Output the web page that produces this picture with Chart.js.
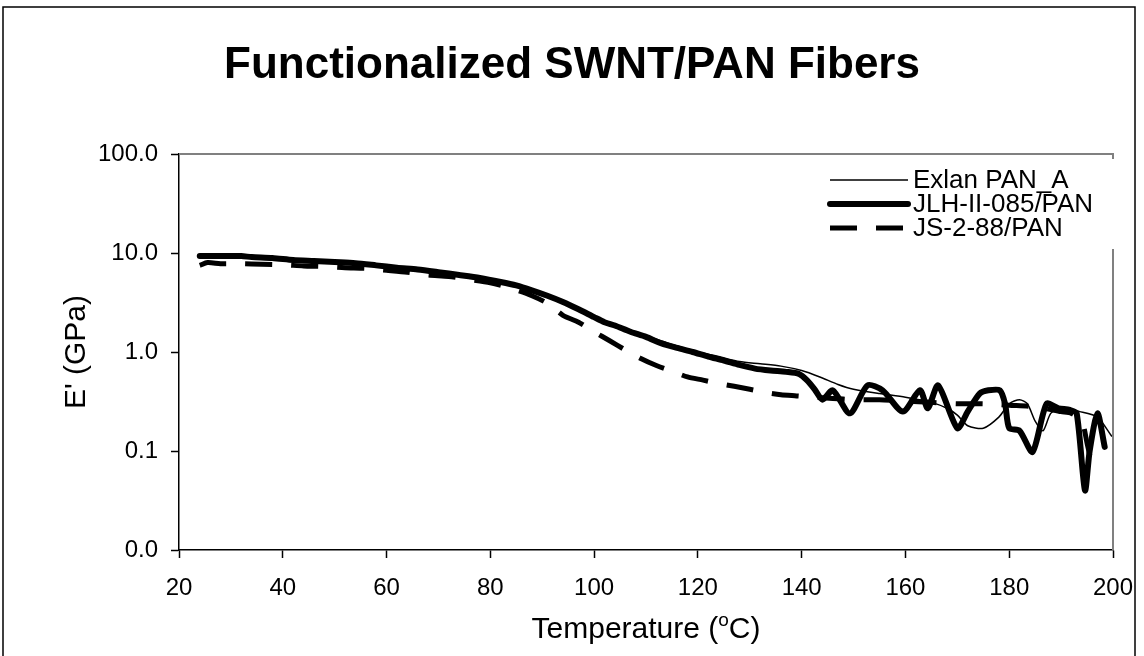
<!DOCTYPE html>
<html>
<head>
<meta charset="utf-8">
<script src="https://cdn.jsdelivr.net/npm/chart.js@4.4.1/dist/chart.umd.min.js"></script>
<style>
  html, body { margin:0; padding:0; background:#fff; }
  #wrap { width:1144px; height:656px; position:relative; }
</style>
</head>
<body>
<div id="wrap"><canvas id="c" width="1144" height="656"></canvas></div>
<script>
// ---- Data ----
const chartTitle = "Functionalized SWNT/PAN Fibers";
const seriesNames = ["Exlan PAN_A", "JLH-II-085/PAN", "JS-2-88/PAN"];

const exlanT = [24, 30, 36, 42, 48, 54, 60, 66, 72, 78, 84, 90, 96, 100, 104, 108, 112, 116, 120, 124, 128, 132, 136, 140, 143.5, 147, 150, 155, 160, 165, 168, 170, 172, 175, 178, 180, 182, 183.5, 185, 186.5, 188, 190, 193.6, 197, 199.8];
const exlanE = [9.3, 9.3, 9.0, 8.6, 8.2, 7.9, 7.3, 6.8, 6.2, 5.6, 4.9, 3.9, 2.9, 2.3, 1.9, 1.6, 1.35, 1.15, 1.0, 0.9, 0.8, 0.76, 0.72, 0.65, 0.56, 0.47, 0.42, 0.38, 0.35, 0.31, 0.27, 0.23, 0.18, 0.17, 0.22, 0.30, 0.33, 0.30, 0.20, 0.16, 0.24, 0.27, 0.25, 0.22, 0.14];

const jlhT = [24, 28, 32, 34, 38, 42, 46, 50, 54, 58, 62, 66, 70, 74, 78, 82, 85, 88, 91, 94, 97, 100, 102, 104, 107, 110, 113, 116, 119, 122, 125, 128, 131, 134, 137, 139.5, 141, 142.5, 144, 146, 149.3, 152.7, 155.6, 159.5, 162.8, 164.3, 166.3, 170, 172, 174.3, 176, 178.2, 179.2, 180, 182, 184.5, 187.2, 189.5, 191.7, 193, 194.6, 195.5, 197, 198.4];
const jlhE = [9.3, 9.3, 9.3, 9.1, 8.9, 8.5, 8.3, 8.1, 7.9, 7.5, 7.1, 6.8, 6.4, 6.0, 5.6, 5.1, 4.7, 4.2, 3.7, 3.2, 2.7, 2.25, 2.0, 1.85, 1.6, 1.42, 1.22, 1.1, 1.0, 0.9, 0.82, 0.74, 0.68, 0.65, 0.63, 0.6, 0.52, 0.42, 0.33, 0.41, 0.24, 0.46, 0.41, 0.25, 0.41, 0.27, 0.46, 0.17, 0.25, 0.38, 0.41, 0.41, 0.30, 0.17, 0.16, 0.098, 0.30, 0.27, 0.26, 0.24, 0.04, 0.10, 0.24, 0.11];

const jsT = [24, 25.5, 28, 32, 36, 40, 44, 48, 52, 56, 60, 64, 68, 72, 76, 80, 84, 88, 91, 94, 97, 100, 103, 106, 109, 112, 115, 118, 121, 124, 127, 130, 133, 136, 139, 142, 146, 150, 155, 160, 165, 170, 175, 180, 185, 190, 192, 194, 195, 196];
const jsE = [7.5, 8.0, 7.8, 7.8, 7.7, 7.6, 7.4, 7.3, 7.1, 7.0, 6.7, 6.4, 6.0, 5.8, 5.4, 5.0, 4.4, 3.7, 3.1, 2.35, 2.0, 1.6, 1.3, 1.05, 0.86, 0.73, 0.64, 0.56, 0.52, 0.48, 0.45, 0.42, 0.39, 0.37, 0.36, 0.35, 0.34, 0.33, 0.33, 0.32, 0.31, 0.30, 0.30, 0.29, 0.28, 0.25, 0.24, 0.20, 0.12, 0.07];

const xTicks = [20, 40, 60, 80, 100, 120, 140, 160, 180, 200];
const yTicks = [0.01, 0.1, 1, 10, 100];

// ---- Styling ----
const FONT = '"Liberation Sans", Arial, sans-serif';
const pts = (xs, ys) => xs.map((x, i) => ({ x: x, y: ys[i] }));

const styles = [
  { borderWidth: 1.5, borderDash: [] },
  { borderWidth: 6, borderDash: [] },
  { borderWidth: 5, borderDash: [27, 19] }
];

const decorPlugin = {
  id: 'decor',
  beforeDraw(chart) {
    const ctx = chart.ctx;
    ctx.save();
    ctx.fillStyle = '#fff';
    ctx.fillRect(0, 0, chart.width, chart.height);
    ctx.restore();
  },
  afterDatasetsDraw(chart) {
    const ctx = chart.ctx;
    const a = chart.chartArea;
    ctx.save();
    // gray plot-area border (top, right)
    ctx.strokeStyle = '#808080';
    ctx.lineWidth = 2;
    ctx.beginPath();
    ctx.moveTo(a.left, a.top);
    ctx.lineTo(a.right, a.top);
    ctx.lineTo(a.right, a.bottom);
    ctx.stroke();

    // legend box
    const lx = 830, ly = 180, lh = 24;
    ctx.fillStyle = '#fff';
    ctx.fillRect(816, 159, 306, 90);
    ctx.font = '26px ' + FONT;
    ctx.textBaseline = 'middle';
    ctx.fillStyle = '#000';
    seriesNames.forEach((n, i) => {
      const y = ly + i * lh;
      ctx.save();
      ctx.strokeStyle = '#000';
      ctx.lineWidth = styles[i].borderWidth;
      ctx.lineCap = i === 1 ? 'round' : 'butt';
      ctx.setLineDash(styles[i].borderDash);
      ctx.beginPath();
      ctx.moveTo(lx, y);
      ctx.lineTo(lx + 78, y);
      ctx.stroke();
      ctx.restore();
      ctx.fillText(n, 913, y + 1);
    });

    // chart title
    ctx.font = 'bold 44px ' + FONT;
    ctx.textAlign = 'center';
    ctx.textBaseline = 'alphabetic';
    ctx.fillText(chartTitle, 572, 78);

    // y axis title (rotated)
    ctx.save();
    ctx.translate(77, (a.top + a.bottom) / 2);
    ctx.rotate(-Math.PI / 2);
    ctx.font = '30px ' + FONT;
    ctx.textAlign = 'center';
    ctx.textBaseline = 'middle';
    ctx.fillText("E' (GPa)", 0, 0);
    ctx.restore();

    // x axis title with superscript o
    const p1 = 'Temperature (', sup = 'o', p2 = 'C)';
    ctx.textAlign = 'left';
    ctx.font = '30px ' + FONT;
    const w1 = ctx.measureText(p1).width, w3 = ctx.measureText(p2).width;
    ctx.font = '19px ' + FONT;
    const w2 = ctx.measureText(sup).width;
    let x = (a.left + a.right) / 2 - (w1 + w2 + w3) / 2;
    const by = 638;
    ctx.font = '30px ' + FONT;
    ctx.fillText(p1, x, by); x += w1;
    ctx.font = '19px ' + FONT;
    ctx.fillText(sup, x, by - 12); x += w2;
    ctx.font = '30px ' + FONT;
    ctx.fillText(p2, x, by);

    // outer frame
    ctx.strokeStyle = '#000';
    ctx.lineWidth = 1.5;
    ctx.strokeRect(3, 7, 1132, 700);
    ctx.restore();
  }
};

const ds = [
  { label: seriesNames[0], data: pts(exlanT, exlanE), order: 3 },
  { label: seriesNames[1], data: pts(jlhT, jlhE), order: 2 },
  { label: seriesNames[2], data: pts(jsT, jsE), order: 1 }
].map((d, i) => Object.assign(d, {
  showLine: true,
  borderColor: '#000',
  backgroundColor: '#000',
  borderWidth: styles[i].borderWidth,
  borderDash: styles[i].borderDash,
  borderCapStyle: i === 1 ? 'round' : 'butt',
  borderJoinStyle: 'round',
  pointRadius: 0,
  tension: 0.25,
  fill: false
}));

new Chart(document.getElementById('c'), {
  type: 'scatter',
  data: { datasets: ds },
  options: {
    responsive: false,
    animation: false,
    devicePixelRatio: 1,
    layout: { padding: { top: 154, right: 31, bottom: 0, left: 0 } },
    plugins: { legend: { display: false }, title: { display: false }, tooltip: { enabled: false } },
    scales: {
      x: {
        type: 'linear', min: 20, max: 200,
        afterBuildTicks: s => { s.ticks = xTicks.map(v => ({ value: v })); },
        afterFit: s => { s.height = 106; s.paddingLeft = 0; s.paddingRight = 0; },
        ticks: { font: { family: FONT, size: 24 }, color: '#000', padding: 16, maxRotation: 0, autoSkip: false },
        grid: { drawOnChartArea: false, drawTicks: true, tickLength: 8, tickColor: '#000', tickWidth: 1.5 },
        border: { display: true, color: '#000', width: 1.5 }
      },
      y: {
        type: 'logarithmic', min: 0.01, max: 100,
        afterBuildTicks: s => { s.ticks = yTicks.map(v => ({ value: v, major: true })); },
        afterFit: s => { s.width = 179; s.paddingTop = 0; s.paddingBottom = 0; },
        ticks: { font: { family: FONT, size: 24 }, color: '#000', padding: 13, autoSkip: false,
                 callback: v => Number(v).toFixed(1) },
        grid: { drawOnChartArea: false, drawTicks: true, tickLength: 8, tickColor: '#000', tickWidth: 1.5 },
        border: { display: true, color: '#000', width: 1.5 }
      }
    }
  },
  plugins: [decorPlugin]
});
</script>
</body>
</html>
